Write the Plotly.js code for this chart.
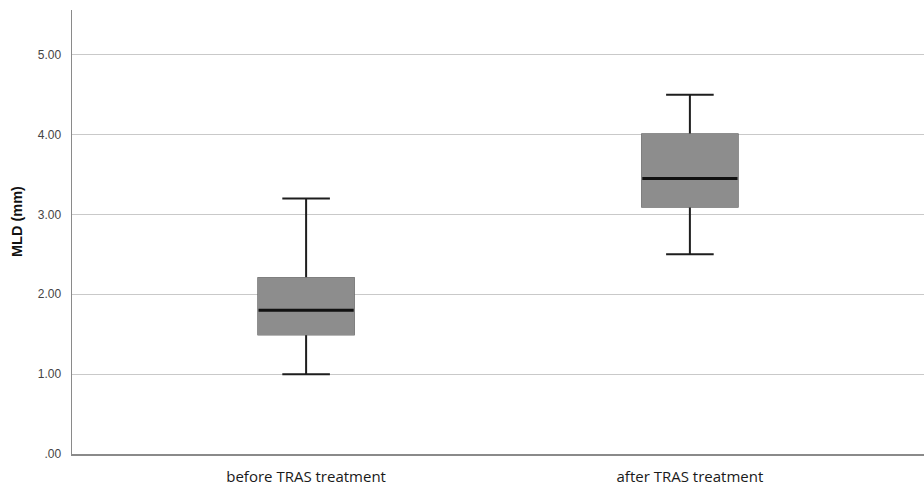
<!DOCTYPE html>
<html>
<head>
<meta charset="utf-8">
<script src="https://cdn.plot.ly/plotly-3.0.1.min.js"></script>
<style>html,body{margin:0;padding:0;background:#fff}#chart{width:924px;height:486px}</style>
</head>
<body>
<div id="chart"></div>
<script>
const categories = ["before TRAS treatment", "after TRAS treatment"];
const lowerFence = [1.0, 2.5];
const q1 = [1.5, 3.1];
const median = [1.8, 3.45];
const q3 = [2.2, 4.0];
const upperFence = [3.2, 4.5];
const yTickVals = [0, 1, 2, 3, 4, 5];
const yTickText = [".00", "1.00", "2.00", "3.00", "4.00", "5.00"];
const yTitle = "MLD (mm)";

const common = {type: "box", x: categories, width: 0.248, whiskerwidth: 0.5,
  hoverinfo: "skip", showlegend: false};

// whiskers (black)
const whiskers = Object.assign({}, common, {
  q1: q1, median: median, q3: q3, lowerfence: lowerFence, upperfence: upperFence,
  line: {color: "#1e1e1e", width: 2}, fillcolor: "rgba(0,0,0,0)"
});
// grey box body
const body = Object.assign({}, common, {
  q1: q1, median: q1, q3: q3, lowerfence: q1, upperfence: q3,
  line: {color: "#8d8d8d", width: 2}, fillcolor: "#8d8d8d", whiskerwidth: 0
});
// median line
const med = Object.assign({}, common, {
  q1: median, median: median, q3: median, lowerfence: median, upperfence: median,
  line: {color: "#111111", width: 3}, fillcolor: "rgba(0,0,0,0)", whiskerwidth: 0
});

const layout = {
  width: 924, height: 486,
  margin: {l: 72, r: 0, t: 10, b: 32},
  paper_bgcolor: "#ffffff", plot_bgcolor: "#ffffff",
  boxmode: "overlay",
  font: {family: "Liberation Sans, Arial, sans-serif", color: "#333"},
  xaxis: {
    type: "category", range: [-0.61, 1.61],
    showgrid: false, zeroline: false,
    showline: true, linecolor: "#8a8a8a", linewidth: 2,
    ticks: "", ticklabelstandoff: 8,
    tickfont: {family: "Open Sans, Liberation Sans, sans-serif", size: 15, color: "#1a1a1a"}
  },
  yaxis: {
    range: [0, 5.56],
    tickvals: yTickVals, ticktext: yTickText,
    showgrid: true, gridcolor: "#c9c9c9", gridwidth: 1.2,
    zeroline: false,
    showline: true, linecolor: "#8a8a8a", linewidth: 1.5,
    ticks: "", ticklabelstandoff: 7,
    tickfont: {family: "Liberation Sans, Arial, sans-serif", size: 12, color: "#444"}
  },
  annotations: [{
    text: "<b>" + yTitle + "</b>", textangle: -90,
    xref: "paper", yref: "paper", x: 0, y: 0.5225,
    xanchor: "center", yanchor: "middle", xshift: -55, showarrow: false,
    font: {family: "Liberation Sans, Arial, sans-serif", size: 14.5, color: "#111"}
  }]
};

Plotly.newPlot("chart", [whiskers, body, med], layout, {displayModeBar: false, staticPlot: true});
</script>
</body>
</html>
